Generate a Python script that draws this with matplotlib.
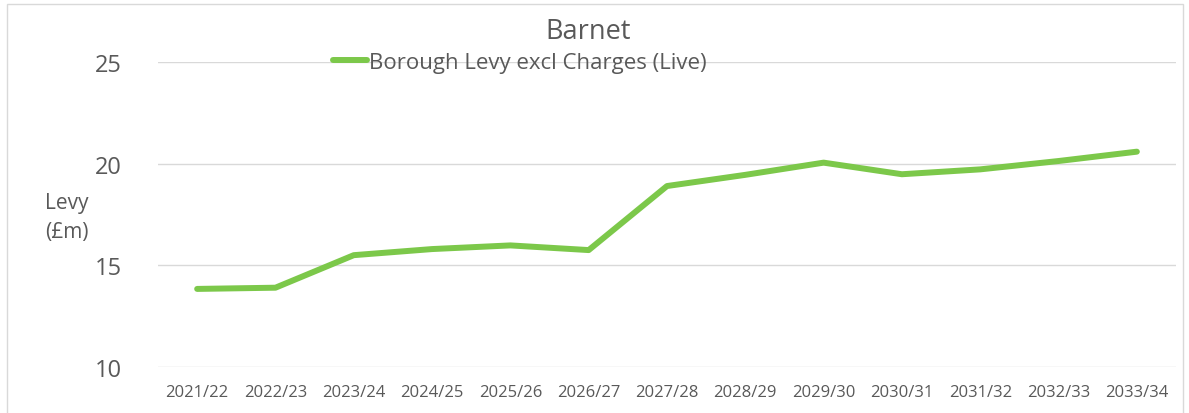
import matplotlib
matplotlib.use("Agg")
import matplotlib.pyplot as plt
from matplotlib.patches import Rectangle

years = ["2021/22", "2022/23", "2023/24", "2024/25", "2025/26", "2026/27", "2027/28",
         "2028/29", "2029/30", "2030/31", "2031/32", "2032/33", "2033/34"]
levy = [13.84, 13.9, 15.5, 15.8, 15.98, 15.75, 18.9, 19.45, 20.05, 19.48, 19.72, 20.13, 20.59]
yticks = [10, 15, 20, 25]

plt.rcParams['font.family'] = ['Open Sans', 'DejaVu Sans']
grey = '#595959'
green = '#7cc84a'

fig = plt.figure(figsize=(11.89, 4.14), dpi=100)
ax = fig.add_axes([158/1189, 1-368/414, (1176-158)/1189, (368-63)/414])

x = list(range(len(years)))
ax.plot(x, levy, color=green, lw=4.3, solid_capstyle='round', solid_joinstyle='round',
        label='Borough Levy excl Charges (Live)', zorder=3)
ax.set_xlim(-0.5, len(years) - 0.5)
ax.set_ylim(10, 25)
ax.set_yticks(yticks)
ax.set_xticks(x)
ax.set_xticklabels(years, fontsize=12, color=grey)
ax.set_yticklabels([str(v) for v in yticks], fontsize=17, color=grey)
ax.tick_params(length=0)
ax.tick_params(axis='y', pad=26)
ax.tick_params(axis='x', pad=12)
ax.grid(axis='y', color='#d9d9d9', lw=1)
ax.set_axisbelow(True)
for s in ax.spines.values():
    s.set_visible(False)

fig.text(67/1189, 1-218/414, 'Levy\n(£m)', fontsize=15, color=grey, ha='center', va='center',
         linespacing=1.45)
fig.text(588/1189, 1-32/414, 'Barnet', fontsize=19.5, color=grey, ha='center', va='center')

leg = ax.legend(loc='center', bbox_to_anchor=(520/1189, 1-63/414), bbox_transform=fig.transFigure,
                frameon=False, fontsize=16, handlelength=1.5, handletextpad=0.1,
                borderpad=0, labelcolor=grey)

fig.patches.append(Rectangle((7/1189, -0.05), (1183-7)/1189, 1.05 - 5/414,
                             transform=fig.transFigure, fill=False, edgecolor='#d9d9d9', lw=1))

fig.savefig('out.png', dpi=100)
